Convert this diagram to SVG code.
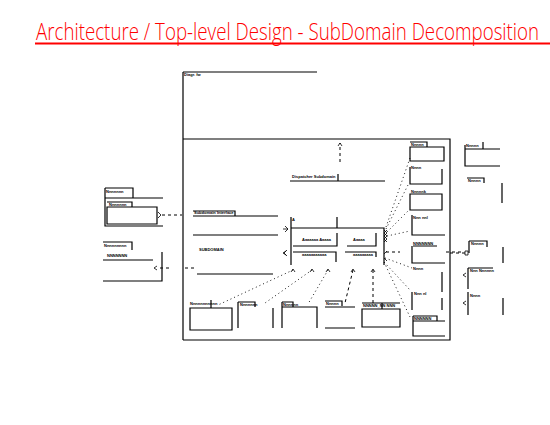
<svg xmlns="http://www.w3.org/2000/svg" width="550" height="425" viewBox="0 0 550 425">
<style>
.t{font-family:"Open Sans","Liberation Sans",sans-serif;font-weight:300;fill:#f00}
.l{stroke:#000;stroke-width:1.2;fill:none}
.d{stroke:#000;stroke-width:0.9;stroke-dasharray:1 3;fill:none}
.dd{stroke:#000;stroke-width:1;stroke-dasharray:3 3;fill:none}
.s{font-family:"Liberation Sans",sans-serif;font-size:4px;font-weight:bold;fill:#000}
.a{stroke:#000;stroke-width:0.8;fill:none}
</style>
<rect width="550" height="425" fill="#fff"/>
<g id="title">
<text class="t" transform="translate(36,40) scale(0.78,1)" x="0" y="0" font-size="24">Architecture / Top-level Design - SubDomain Decomposition</text>
<line x1="35" y1="43.5" x2="550" y2="43.5" stroke="#f00" stroke-width="2"/>
</g>
<g id="top-level">
<path class="l" d="M183,72 H317 M183,72 V340 M183,139 H450 V340 H183"/>
<text class="s" x="184" y="76">Diagr. fw</text>
</g>
<g id="dispatcher">
<text class="s" x="292" y="178">Dispatcher Subdomain</text>
<path class="l" d="M290,181 H385 M338,174 V181"/>
</g>
<g id="left-inner">
<text class="s" x="194" y="214">Subdomain Interface</text>
<path class="l" d="M193,211 H235 V216 M193,216 H278 M193,235 H278"/>
<text class="s" x="199" y="251">SUBDOMAIN</text>
<path class="l" d="M197,274 H273"/>
</g>
<g id="central">
<text class="s" x="292" y="221">A</text>
<path class="l" d="M291,217 V265 M337,217 V228 M291,228 H384 V265"/>
<text class="s" x="302" y="241">Aaaaaaa Aaaaa</text>
<text class="s" x="353" y="241">Aaaaa</text>
<path class="l" d="M293,246 H337 V233 M347,246 H376 V233"/>
<path class="l" d="M293,252 H336 V262 M345,252 H376 V257"/>
<text class="s" x="302" y="256">aaaaaaaaaaa</text>
<text class="s" x="353" y="256">aaaaaaaaa</text>
<path class="a" d="M384,230 l3,3 l-3,3 l3,3 l-3,3 M387,230 l-3,3 l3,3 l-3,3 l3,3 M384,254 l3,-3 M384,258 l3,3"/>
</g>
<g id="left-pkg-1">
<path class="l" d="M105,188 H133 V198 M105,198 H163 M105,188 V226 H163"/>
<text class="s" x="106" y="193">Nnnnnnn</text>
<path class="l" d="M107,202 H132 V207 M107,207 H157 V224 H107 Z"/>
<text class="s" x="109" y="206">Nnnnnnn</text>
</g>
<g id="left-pkg-2">
<path class="l" d="M103,242 H132 V250 M103,260 H153 M162,252 V281 H103"/>
<text class="s" x="104" y="247">Nnnnnnnnn</text>
<text class="s" x="107" y="257">NNNNNNN</text>
</g>
<g id="right-col">
<path class="l" d="M410,142 H427 V147 M410,147 H444 V161 H410 Z"/>
<text class="s" x="411" y="146">Nnnnn</text>
<path class="l" d="M410,167 V184 H442 V169"/>
<text class="s" x="411" y="169">Nnnn</text>
<path class="l" d="M410,194 H442 V210 H410 Z"/>
<text class="s" x="411" y="193">Nnnnnk</text>
<path class="l" d="M412,215 V235 H445"/>
<text class="s" x="413" y="219">Nnn nnl</text>
<path class="l" d="M413,246 H437 M412,246 V263 H445"/>
<text class="s" x="413" y="245">NNNNNNN</text>
<path class="l" d="M442,272 V292"/>
<text class="s" x="413" y="270">Nnnn</text>
<path class="l" d="M412,292 V310 M442,298 V310"/>
<text class="s" x="414" y="295">Nnn nl</text>
<path class="l" d="M413,316 H437 V321 M413,321 H445 M413,316 V336 H445"/>
<text class="s" x="414" y="320">NNNNNN</text>
</g>
<g id="bottom-row">
<path class="l" d="M190,308 H232 V330 H190 Z M211,300 V308"/>
<text class="s" x="190" y="305">Nnnnnnnnnnn</text>
<path class="l" d="M238,302 H255 V307 M238,302 V328 M273,308 V328"/>
<text class="s" x="240" y="306">Nnnnnnn</text>
<path class="l" d="M282,302 H293 V307 M282,307 H317 V328 M282,302 V328"/>
<text class="s" x="283" y="306">Nnnnnn</text>
<path class="l" d="M325,301 H342 V306 M325,307 H355 M325,328 H355"/>
<text class="s" x="326" y="305">Nnnnn</text>
<path class="l" d="M362,303 H400 M362,309 H400 V327 H362 Z M382,303 V309"/>
<text class="s" x="363" y="307">NNNNN_NN NNN</text>
</g>
<g id="right-outside">
<path class="l" d="M465,145 V166 H500 M465,149 H500 M483,142 V149"/>
<text class="s" x="466" y="147">Nnnnn</text>
<path class="l" d="M467,178 H484 V183 M502,183 V203"/>
<text class="s" x="468" y="182">Nnnnn</text>
<path class="l" d="M469,241 V253 M469,241 H487 V247 M503,247 V263"/>
<text class="s" x="471" y="245">Nnnnn</text>
<path class="l" d="M468,268 H493 M468,268 V289"/>
<text class="s" x="470" y="272">Nnn Nnnnnn</text>
<path class="l" d="M468,292 V315 M503,298 V315"/>
<text class="s" x="470" y="297">Nnnn</text>
</g>
<g id="connectors">
<path class="dd" d="M340,162 V143"/>
<path class="a" d="M338,146 l2,-3 l2,3"/>
<path class="dd" d="M162,215 H182"/>
<path class="a" d="M158,212 l3,3 l-3,3"/>
<path class="dd" d="M160,268 H170 M185,268 H197"/>
<path class="a" d="M157,266 l-3,2 l3,2"/>
<path class="a" d="M285,226 l3,3 l-3,3 M283,229 H288 M287,250 l-3,3 l3,3"/>
<path class="d" d="M386,227 L410,158 M386,229 L408,185 M387,232 L409,210 M387,236 L410,231"/>
<path class="dd" d="M386,252 H400"/>
<path class="d" d="M385,258 L412,268 M384,262 L410,290 M384,262 L410,317"/>
<path class="dd" d="M446,252 H461"/>
<path class="dd" d="M450,253 H465"/>
<path class="a" d="M465,251 h3 v4 h-3 z"/>
<path class="a" d="M466,273 l-3,2 l3,2 M466,301 l-3,2 l3,2"/>
<path class="d" d="M293,270 L218,305 M312,270 L265,303 M328,270 L308,304"/>
<path class="dd" d="M353,270 L345,303 M373,270 V303"/>
<path class="a" d="M291,272 l2,-3 l2,3 M310,272 l2,-3 l2,3 M326,272 l2,-3 l2,3 M351,272 l2,-3 l2,3 M371,272 l2,-3 l2,3"/>
<path class="a" d="M283,253 l3,-2 M283,253 l3,2"/>
</g>
</svg>
